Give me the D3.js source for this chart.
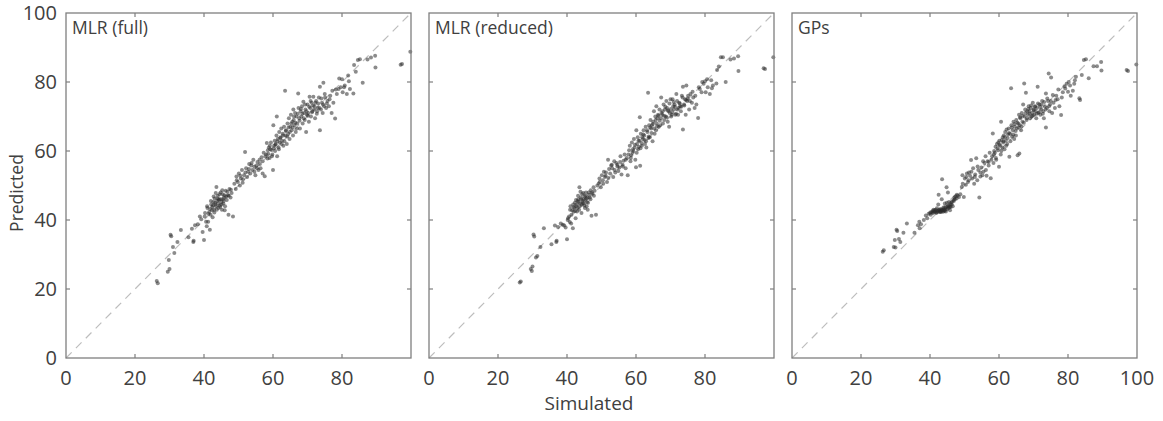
<!DOCTYPE html>
<html>
<head>
<meta charset="utf-8">
<script src="https://cdn.jsdelivr.net/npm/d3@7"></script>
<style>
  body { margin: 0; background: #fff; }
  svg { display: block; font-family: "Open Sans", "Noto Sans", sans-serif; }
  .frame { fill: none; stroke: #7f7f7f; stroke-width: 1.3; }
  .tick-mark { stroke: #7f7f7f; stroke-width: 1.2; }
  .tick-label { fill: #404040; font-size: 20px; }
  .axis-title { fill: #404040; }
  .panel-title { fill: #404040; font-size: 17.5px; }
  .diag { stroke: #bdbdbd; stroke-width: 1.2; stroke-dasharray: 8,6; }
  .dot { fill: #2b2b2b; fill-opacity: 0.55; }
</style>
</head>
<body>
<div id="chart"></div>
<script>
// panel names, left to right
var panelNames = ["MLR (full)", "MLR (reduced)", "GPs"];
var tickValues = [0, 20, 40, 60, 80, 100];

// simulated values (x), shared by all three panels
var simulated = [
  26.3, 26.6, 29.5, 29.8, 30.0, 30.3, 30.5, 31.0, 31.4, 32.3, 33.3, 35.5, 36.5, 36.9, 37.0, 37.4, 38.2, 38.8,
  39.2, 39.6, 40.0, 40.3, 40.6, 40.8, 41.0, 41.2, 41.5, 41.7, 41.9, 42.1, 42.3, 42.5, 42.7, 42.9, 43.1, 43.3,
  43.5, 43.6, 43.8, 44.0, 44.2, 44.4, 44.6, 44.8, 45.0, 45.2, 45.4, 45.6, 45.8, 46.0, 46.3, 46.6, 46.9, 47.1,
  47.4, 47.7, 48.0, 48.4,
  48.8, 49.2, 49.4, 49.8, 50.1, 50.4, 50.7, 51.0, 51.3, 51.6, 51.9, 52.2, 52.5, 52.8, 53.1, 53.4, 53.7, 54.0,
  54.3, 54.6, 54.9, 55.2, 55.5, 55.8, 56.1, 56.4, 56.7, 57.0, 57.3, 57.6,
  58.0, 58.2, 58.4, 58.6, 58.8, 59.0, 59.2, 59.4, 59.6, 59.8, 60.0, 60.1, 60.3, 60.5, 60.6, 60.8, 61.0, 61.1,
  61.2, 61.4, 61.6, 61.8, 62.0, 62.2, 62.4, 62.6, 62.8, 63.0, 63.2, 63.5, 63.6, 63.8, 64.0, 64.2, 64.4, 64.6,
  64.8, 65.0, 65.2, 65.4, 65.6, 65.8, 65.9, 66.0, 66.2, 66.4, 66.6, 66.8, 67.0, 67.3, 67.4, 67.6, 67.8, 68.0,
  68.2, 68.4, 68.6, 68.8, 69.0, 69.2, 69.4, 69.6, 69.8, 70.0, 70.2, 70.4, 70.6, 70.8, 71.0, 71.2, 71.4, 71.7,
  72.0, 72.2, 72.5, 72.8, 73.0, 73.3, 73.6, 73.6, 73.9, 74.2, 74.4, 74.6, 74.8, 75.1,
  75.4, 75.8, 76.2, 76.6, 77.0, 77.5, 78.0, 78.5, 79.2, 79.6, 80.2, 80.8, 81.4, 81.8, 82.3, 83.3, 83.5, 84.6,
  85.2, 86.0, 87.4, 88.4, 89.6, 89.7, 97.0, 97.4, 99.8,
  40.2, 40.9, 41.3, 41.8, 42.0, 42.4, 42.6, 42.8, 43.0, 43.2, 43.4, 43.7, 43.9, 44.1, 44.3, 44.5, 44.7, 44.9,
  45.1, 45.3, 45.5, 45.7, 45.9, 46.1, 46.4, 46.8, 47.2, 47.8,
  49.5, 50.5, 51.2, 52.0, 53.0, 53.8, 54.6, 55.4, 56.2, 57.0, 57.8,
  58.5, 59.1, 59.7, 60.2, 60.7, 61.3, 61.7, 62.1, 62.5, 62.9, 63.3, 63.7, 64.1, 64.5, 64.9, 65.3, 65.7, 66.1,
  66.5, 66.9,
  67.2, 67.7, 68.1, 68.5, 68.9, 69.3, 69.7, 70.1, 70.5, 70.9, 71.3, 71.6, 71.9, 72.3, 72.7, 73.1, 73.5, 74.0,
  74.5, 75.0,
  75.6, 76.4, 77.2, 78.2, 79.0, 80.0, 80.6, 82.0, 84.0
];

// predicted values, MLR with all predictors
var predFull = [
  22.3, 21.7, 25.0, 28.4, 25.8, 35.7, 35.3, 32.2, 30.4, 33.6, 37.1, 35.0, 37.5, 33.6, 34.0, 38.5, 38.8, 41.0,
  40.2, 36.5, 34.2, 42.0, 39.5, 38.2, 43.5, 39.5, 42.3, 37.2, 41.5, 44.5, 42.8, 40.8, 45.2, 43.0, 46.2, 44.5,
  44.0, 49.6, 45.5, 47.0, 43.5, 46.0, 44.2, 48.0, 45.2, 43.0, 47.5, 44.8, 46.5, 42.8, 48.5, 45.8, 47.2, 41.5,
  49.0, 46.5, 47.8, 41.0,
  50.5, 49.0, 52.6, 51.0, 53.5, 50.0, 52.0, 54.5, 51.8, 53.0, 59.7, 55.0, 52.5, 54.0, 56.2, 53.5, 55.8, 54.5,
  57.5, 55.4, 53.0, 55.8, 56.8, 54.5, 57.5, 55.0, 58.2, 53.5, 59.5, 52.7,
  59.0, 62.3, 57.8, 59.2, 61.0, 58.0, 60.5, 62.5, 60.3, 59.0, 54.5, 67.5, 61.5, 63.0, 60.0, 62.0, 64.5, 70.0,
  58.5, 63.5, 61.0, 65.5, 62.5, 64.0, 66.5, 63.0, 65.0, 61.5, 67.0, 77.5, 64.5, 66.0, 62.0, 68.0, 65.0, 69.5,
  63.5, 67.0, 70.5, 66.0, 68.5, 64.5, 72.0, 69.0, 67.5, 71.0, 65.5, 70.0, 68.0, 76.7, 72.5, 69.5, 66.5, 71.5,
  70.0, 73.0, 68.0, 74.3, 71.0, 69.0, 72.0, 65.5, 70.5, 73.5, 71.0, 68.5, 75.7, 72.5, 70.0, 74.0, 71.5, 75.7,
  73.0, 69.5, 74.5, 71.5, 72.5, 75.5, 78.6, 66.0, 72.0, 74.0, 71.0, 79.8, 73.0, 75.5,
  72.5, 74.5, 73.0, 76.0, 71.0, 74.0, 69.4, 76.5, 81.0, 78.5, 77.0, 79.0, 76.5, 81.9, 78.0, 76.7, 84.9, 86.4,
  86.6, 79.8, 86.5, 87.1, 87.6, 84.2, 85.0, 85.2, 88.8,
  41.0, 44.0, 41.8, 43.2, 45.5, 43.8, 44.2, 46.8, 42.2, 45.0, 47.8, 43.0, 46.2, 44.8, 45.8, 47.5, 43.8, 46.0,
  44.5, 48.6, 46.0, 45.5, 47.2, 44.0, 46.8, 48.2, 47.0, 48.8,
  51.5, 52.8, 50.8, 53.8, 54.8, 56.5, 54.0, 55.0, 56.2, 57.0, 58.5,
  60.2, 61.5, 58.5, 60.8, 61.8, 62.8, 60.5, 63.8, 62.0, 64.5, 62.8, 65.8, 64.2, 66.8, 65.5, 68.0, 66.8, 70.0,
  68.2, 66.5,
  70.8, 68.8, 72.2, 70.8, 69.5, 73.5, 71.5, 70.2, 72.8, 74.5, 71.2, 73.2, 72.0, 74.0, 70.8, 73.8, 72.5, 75.2,
  73.5, 76.5,
  73.8, 75.0, 77.5, 77.8, 78.0, 80.8, 78.5, 80.2, 83.0
];

// predicted values, MLR with the reduced predictor set
var predReduced = [
  21.9, 22.2, 25.8, 25.2, 26.5, 35.8, 35.2, 29.1, 29.6, 32.2, 37.6, 33.0, 38.4, 33.6, 34.0, 38.0, 39.0, 38.6,
  38.4, 37.8, 34.4, 40.5, 41.0, 39.4, 44.0, 39.0, 42.8, 37.6, 42.4, 43.5, 45.0, 40.5, 44.0, 42.5, 45.5, 46.0,
  43.0, 49.5, 44.8, 46.5, 42.0, 47.5, 45.0, 46.0, 44.2, 43.5, 47.0, 46.2, 45.2, 43.0, 48.0, 46.5, 48.6, 41.2,
  47.6, 49.5, 48.5, 41.5,
  50.0, 50.6, 52.0, 49.5, 53.0, 51.5, 54.0, 52.5, 53.8, 51.0, 57.5, 54.8, 53.5, 55.8, 55.0, 52.5, 57.0, 53.8,
  56.5, 56.0, 54.2, 55.2, 58.5, 53.2, 56.0, 57.2, 59.0, 55.0, 58.0, 53.0,
  60.2, 61.5, 57.0, 58.8, 62.5, 59.5, 60.0, 63.5, 61.0, 57.5, 55.3, 66.0, 62.0, 64.0, 60.5, 61.2, 63.0, 69.8,
  55.7, 65.0, 62.3, 64.0, 63.5, 66.0, 64.5, 62.0, 67.0, 61.0, 66.0, 76.9, 63.8, 67.5, 64.0, 69.0, 66.5, 67.5,
  62.8, 68.5, 71.5, 65.0, 70.0, 66.0, 73.0, 68.0, 69.5, 70.5, 67.0, 72.0, 67.5, 75.5, 71.0, 70.5, 68.0, 73.5,
  69.0, 72.0, 70.0, 74.5, 72.5, 68.5, 71.5, 67.0, 71.0, 75.0, 70.0, 70.5, 75.0, 73.0, 72.0, 73.5, 70.5, 76.5,
  72.0, 70.5, 74.0, 73.0, 71.5, 76.0, 78.6, 66.2, 73.5, 75.0, 70.5, 79.0, 74.5, 76.0,
  72.0, 76.5, 74.0, 75.5, 72.5, 73.5, 69.6, 78.0, 80.0, 79.5, 77.0, 78.5, 76.5, 80.5, 79.0, 79.6, 83.5, 87.2,
  87.2, 80.0, 86.5, 86.8, 87.5, 83.2, 84.0, 83.8, 87.2,
  40.0, 43.0, 41.5, 44.5, 43.8, 42.6, 45.8, 44.5, 43.5, 47.0, 45.2, 44.0, 48.2, 46.0, 44.5, 45.5, 47.8, 44.8,
  46.8, 45.8, 48.0, 44.0, 46.5, 45.0, 47.3, 46.0, 48.0, 47.0,
  51.0, 50.5, 52.8, 52.2, 56.0, 54.5, 55.5, 56.8, 55.5, 57.5, 59.0,
  58.0, 60.5, 61.8, 59.5, 63.0, 60.8, 61.5, 64.8, 63.2, 62.8, 65.5, 64.2, 66.8, 65.2, 67.8, 66.5, 69.0, 67.2,
  70.2, 68.8,
  69.5, 71.5, 70.2, 72.8, 69.8, 71.8, 73.8, 72.2, 71.2, 74.2, 72.8, 70.8, 74.5, 72.5, 73.8, 72.8, 75.5, 73.2,
  74.8, 75.2,
  74.5, 77.2, 76.0, 78.5, 77.0, 80.2, 80.8, 78.2, 84.5
];

// predicted values, Gaussian processes
var predGP = [
  30.8, 31.2, 32.2, 34.2, 32.0, 37.2, 36.8, 34.5, 33.6, 36.3, 39.0, 36.3, 38.5, 39.5, 37.6, 38.8, 40.0, 41.3,
  40.5, 41.8, 42.0, 42.3, 42.2, 42.6, 43.0, 42.4, 42.5, 43.0, 42.1, 42.7, 42.4, 47.3, 42.8, 42.3, 42.6, 43.0,
  51.8, 42.7, 42.4, 43.2, 42.6, 43.5, 42.5, 49.5, 43.2, 48.0, 43.5, 44.0, 42.8, 43.8, 44.5, 44.0, 45.5, 46.5,
  46.8, 46.2, 47.0, 46.7,
  47.5, 49.6, 53.0, 46.7, 52.0, 50.2, 53.5, 51.0, 53.8, 52.8, 57.4, 52.0, 55.0, 50.5, 53.2, 57.9, 51.5, 54.5,
  46.5, 52.6, 55.2, 53.0, 54.0, 56.5, 58.5, 52.8, 57.0, 55.8, 59.5, 52.1,
  58.5, 65.1, 56.5, 60.0, 59.5, 61.2, 57.5, 62.0, 60.8, 62.5, 55.4, 63.0, 61.5, 59.0, 68.5, 63.2, 61.0, 64.0,
  62.5, 64.5, 60.5, 65.5, 63.0, 66.2, 62.0, 64.8, 66.5, 58.3, 65.0, 78.2, 67.5, 64.2, 66.0, 68.5, 63.5, 67.0,
  65.8, 69.0, 66.5, 58.8, 68.0, 70.5, 59.3, 67.5, 69.5, 66.0, 71.0, 68.5, 73.5, 79.6, 70.0, 72.0, 76.9, 69.0,
  71.5, 70.5, 73.0, 71.5, 69.5, 72.5, 70.0, 71.0, 74.0, 72.0, 70.5, 73.0, 71.5, 69.5, 72.5, 78.6, 71.0, 73.5,
  70.5, 72.0, 74.5, 71.5, 69.5, 73.0, 76.7, 66.8, 72.5, 74.5, 82.5, 71.5, 73.5, 81.3,
  71.0, 74.0, 72.5, 76.0, 75.0, 73.0, 70.4, 77.0, 78.1, 79.5, 80.0, 76.0, 77.5, 79.5, 81.5, 75.3, 74.8, 86.4,
  86.6, 81.1, 84.6, 84.6, 85.8, 83.3, 83.5, 83.2, 85.1,
  41.5, 42.0, 42.8, 42.2, 43.4, 44.5, 42.9, 42.5, 43.2, 42.3, 46.0, 42.9, 43.6, 42.8, 44.8, 43.0, 43.8, 45.0,
  43.9, 44.2, 45.2, 43.7, 44.6, 45.0, 45.3, 45.8, 46.0, 47.3,
  50.5, 52.5, 51.5, 54.0, 52.5, 55.5, 53.8, 57.0, 54.5, 56.8, 57.5,
  59.0, 58.0, 60.2, 61.8, 60.0, 62.8, 64.0, 61.5, 63.8, 65.2, 62.8, 66.8, 64.8, 67.8, 64.5, 68.2, 66.8, 69.8,
  67.2, 70.2,
  68.2, 71.0, 69.5, 72.2, 70.8, 73.2, 70.2, 71.8, 72.8, 70.8, 73.8, 71.2, 72.8, 73.5, 70.8, 74.2, 72.0, 75.2,
  73.0, 74.5,
  76.2, 74.8, 77.8, 75.5, 78.8, 77.2, 79.0, 80.5, 82.0
];

var predictions = [predFull, predReduced, predGP];

var width = 1163,
  height = 421,
  panelSize = 345,
  panelTop = 13,
  panelLefts = [66, 429, 792],
  tickLen = 4;

var svg = d3.select("#chart")
  .append("svg")
  .attr("width", width)
  .attr("height", height);

var y = d3.scaleLinear().domain([0, 100]).range([panelTop + panelSize, panelTop]);

panelLefts.forEach(function(left, i) {
  var x = d3.scaleLinear().domain([0, 100]).range([left, left + panelSize]);
  var g = svg.append("g").attr("class", "panel");
  var inner = tickValues.slice(1, -1);

  // one-to-one line
  g.append("line")
    .attr("class", "diag")
    .attr("x1", x(0)).attr("y1", y(0))
    .attr("x2", x(100)).attr("y2", y(100));

  // points
  var pts = simulated.map(function(s, k) {
    return { sim: s, pred: predictions[i][k] };
  }).filter(function(d) { return d.pred != null; });

  g.selectAll("circle.dot")
    .data(pts)
    .enter()
    .append("circle")
    .attr("class", "dot")
    .attr("cx", function(d) { return x(d.sim); })
    .attr("cy", function(d) { return y(d.pred); })
    .attr("r", 2);

  // inward ticks on all four sides
  inner.forEach(function(t) {
    g.append("line").attr("class", "tick-mark")
      .attr("x1", x(t)).attr("x2", x(t))
      .attr("y1", y(0)).attr("y2", y(0) - tickLen);
    g.append("line").attr("class", "tick-mark")
      .attr("x1", x(t)).attr("x2", x(t))
      .attr("y1", y(100)).attr("y2", y(100) + tickLen);
    g.append("line").attr("class", "tick-mark")
      .attr("x1", x(0)).attr("x2", x(0) + tickLen)
      .attr("y1", y(t)).attr("y2", y(t));
    g.append("line").attr("class", "tick-mark")
      .attr("x1", x(100)).attr("x2", x(100) - tickLen)
      .attr("y1", y(t)).attr("y2", y(t));
  });

  g.append("rect")
    .attr("class", "frame")
    .attr("x", x(0)).attr("y", y(100))
    .attr("width", panelSize).attr("height", panelSize);

  // x tick labels; the last panel also shows 100
  var xLabels = i === panelLefts.length - 1 ? tickValues : tickValues.slice(0, -1);
  g.selectAll("text.xlab")
    .data(xLabels)
    .enter()
    .append("text")
    .attr("class", "tick-label")
    .attr("x", function(d) { return x(d); })
    .attr("y", y(0) + 27)
    .attr("text-anchor", "middle")
    .text(function(d) { return d; });

  // y tick labels only on the first panel
  if (i === 0) {
    g.selectAll("text.ylab")
      .data(tickValues)
      .enter()
      .append("text")
      .attr("class", "tick-label")
      .attr("x", x(0) - 9)
      .attr("y", function(d) { return y(d) + 7; })
      .attr("text-anchor", "end")
      .text(function(d) { return d; });
  }

  g.append("text")
    .attr("class", "panel-title")
    .attr("x", x(0) + 6)
    .attr("y", y(100) + 21)
    .text(panelNames[i]);
});

svg.append("text")
  .attr("class", "axis-title")
  .attr("transform", "translate(23," + 193 + ") rotate(-90)")
  .attr("text-anchor", "middle")
  .style("font-size", "17.5px")
  .text("Predicted");

svg.append("text")
  .attr("class", "axis-title")
  .attr("x", 589)
  .attr("y", 410)
  .attr("text-anchor", "middle")
  .style("font-size", "19px")
  .text("Simulated");
</script>
</body>
</html>
